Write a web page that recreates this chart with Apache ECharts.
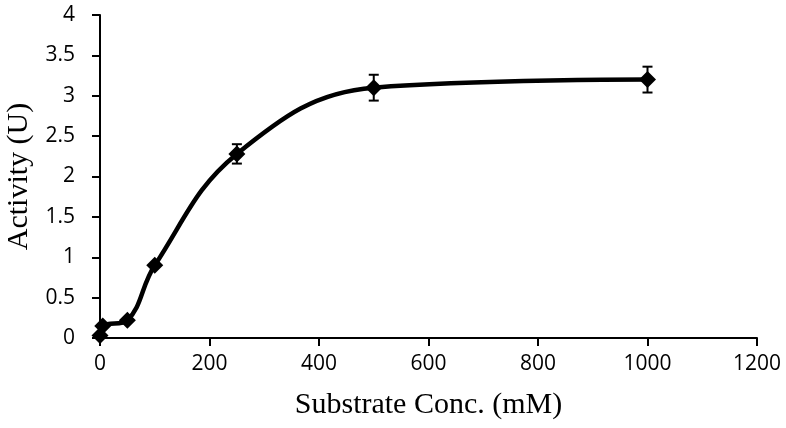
<!DOCTYPE html>
<html>
<head>
<meta charset="utf-8">
<script src="https://cdn.jsdelivr.net/npm/echarts@6/dist/echarts.min.js"></script>
<style>
  html, body { margin: 0; padding: 0; background: #fff; }
  #main { width: 786px; height: 428px; }
</style>
</head>
<body>
<div id="main"></div>
<script>
// substrate concentration (mM) and measured activity (U)
var conc = [0, 5, 50, 100, 250, 500, 1000];
var activity = [0.03, 0.15, 0.22, 0.9, 2.28, 3.1, 3.2];
var errors = [0, 0, 0, 0, 0.12, 0.16, 0.16];

var xTicks = [0, 200, 400, 600, 800, 1000, 1200];
var yTicks = [0, 0.5, 1, 1.5, 2, 2.5, 3, 3.5, 4];

var points = conc.map(function (c, i) { return [c, activity[i]]; });
var errData = conc.map(function (c, i) { return [c, activity[i] - errors[i], activity[i] + errors[i]]; })
  .filter(function (d) { return d[2] - d[1] > 0; });

var myChart = echarts.init(document.getElementById('main'));

var option = {
  animation: false,
  grid: { left: 100, right: 29, top: 15, bottom: 90, containLabel: false, outerBoundsMode: 'none' },
  xAxis: {
    type: 'value',
    min: xTicks[0],
    max: xTicks[xTicks.length - 1],
    interval: 200,
    name: 'Substrate Conc. (mM)',
    nameLocation: 'middle',
    nameGap: 52,
    nameTextStyle: { fontFamily: 'Liberation Serif', fontSize: 30, color: '#000' },
    axisLine: { lineStyle: { color: '#000', width: 2 } },
    axisTick: { length: 8, lineStyle: { color: '#000', width: 2 } },
    axisLabel: { margin: 16, fontFamily: 'Open Sans', fontSize: 21, color: '#000',
      formatter: function (v) { return String(v); } },
    splitLine: { show: false }
  },
  yAxis: {
    type: 'value',
    min: yTicks[0],
    max: yTicks[yTicks.length - 1],
    interval: 0.5,
    name: 'Activity (U)',
    nameLocation: 'middle',
    nameGap: 66,
    nameTextStyle: { fontFamily: 'Liberation Serif', fontSize: 30, color: '#000' },
    axisLine: { show: true, lineStyle: { color: '#000', width: 2 } },
    axisTick: { show: true, length: 8, lineStyle: { color: '#000', width: 2 } },
    axisLabel: { margin: 25, fontFamily: 'Open Sans', fontSize: 21, color: '#000' },
    splitLine: { show: false }
  },
  series: [
    {
      type: 'line',
      data: points,
      smooth: 0.4,
      symbol: 'diamond',
      symbolSize: 17,
      lineStyle: { color: '#000', width: 4.5 },
      itemStyle: { color: '#000' },
      z: 2
    },
    {
      type: 'custom',
      data: errData,
      z: 3,
      renderItem: function (params, api) {
        var x = api.value(0);
        var lo = api.coord([x, api.value(1)]);
        var hi = api.coord([x, api.value(2)]);
        var w = 5;
        var st = { stroke: '#000', lineWidth: 2 };
        return {
          type: 'group',
          children: [
            { type: 'line', shape: { x1: lo[0], y1: lo[1], x2: hi[0], y2: hi[1] }, style: st },
            { type: 'line', shape: { x1: lo[0] - w, y1: lo[1], x2: lo[0] + w, y2: lo[1] }, style: st },
            { type: 'line', shape: { x1: hi[0] - w, y1: hi[1], x2: hi[0] + w, y2: hi[1] }, style: st }
          ]
        };
      }
    }
  ]
};

myChart.setOption(option);
</script>
</body>
</html>
